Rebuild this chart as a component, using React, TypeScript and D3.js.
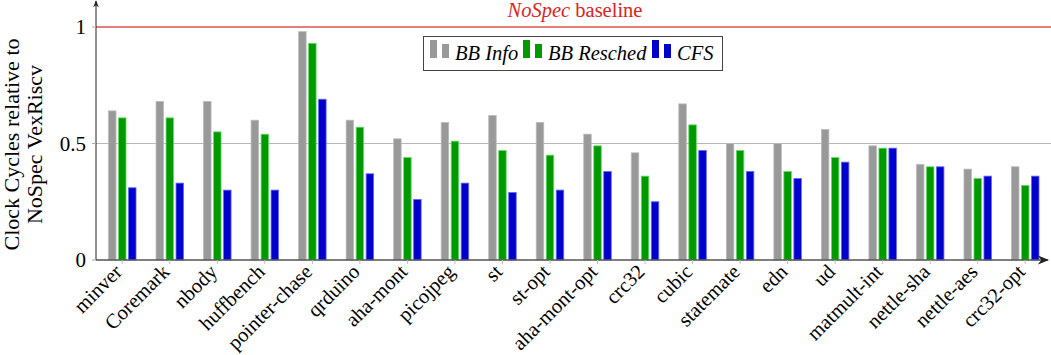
import React from "react";
import * as d3 from "d3";

const categories = ["minver","Coremark","nbody","huffbench","pointer-chase","qrduino","aha-mont","picojpeg","st","st-opt","aha-mont-opt","crc32","cubic","statemate","edn","ud","matmult-int","nettle-sha","nettle-aes","crc32-opt"];
const bbInfo = [0.64,0.68,0.68,0.60,0.98,0.60,0.52,0.59,0.62,0.59,0.54,0.46,0.67,0.50,0.50,0.56,0.49,0.41,0.39,0.40];
const bbResched = [0.61,0.61,0.55,0.54,0.93,0.57,0.44,0.51,0.47,0.45,0.49,0.36,0.58,0.47,0.38,0.44,0.48,0.40,0.35,0.32];
const cfs = [0.31,0.33,0.30,0.30,0.69,0.37,0.26,0.33,0.29,0.30,0.38,0.25,0.47,0.38,0.35,0.42,0.48,0.40,0.36,0.36];
const yTicks = [0, 0.5, 1];
const yTickLabels = ["0", "0.5", "1"];
const seriesNames = ["BB Info", "BB Resched", "CFS"];
const seriesColors = ["#999999", "#009900", "#0000cc"];
const seriesEdge = ["#bbbbbb", "#66dd66", "#6666ff"];

const W = 1051, H = 355;
const FONT = "'Liberation Serif', 'Times New Roman', serif";

export default function App() {
  const x0 = 96, x1 = 1048;
  const y = d3.scaleLinear().domain([0, 1]).range([260, 27]);
  const x = d3.scaleBand().domain(categories).range([98.5, 1049]).paddingInner(0).paddingOuter(0);
  const sub = d3.scaleBand().domain(["0", "1", "2"]).range([-15, 15]).paddingInner(0.25).paddingOuter(0.125);
  const series = [bbInfo, bbResched, cfs];
  const cx = (c: string) => (x(c) as number) + x.bandwidth() / 2;
  const bw = sub.bandwidth();
  const legendSym = [430, 523, 652];
  const legendText = [455, 548, 677];

  return (
    <svg width={W} height={H} style={{ position: "absolute", left: 0, top: 0, fontFamily: FONT }}>
      <defs>
        <marker id="arr" viewBox="0 0 10 10" refX="9" refY="5" markerWidth="7" markerHeight="7" orient="auto-start-reverse">
          <path d="M0,1 L10,5 L0,9 L3,5 Z" fill="#222" />
        </marker>
      </defs>
      <line x1={x0} x2={W} y1={y(0.5)} y2={y(0.5)} stroke="#b8b8b8" strokeWidth={1} />
      {series.map((vals, si) =>
        categories.map((c, i) => {
          const bx = cx(c) + (sub(String(si)) as number);
          return (
            <rect key={si + "-" + i} x={bx} y={y(vals[i])} width={bw} height={y(0) - y(vals[i])}
              fill={seriesColors[si]} stroke={seriesEdge[si]} strokeWidth={0.8} />
          );
        })
      )}
      <line x1={x0} x2={W} y1={y(1)} y2={y(1)} stroke="#dd5555" strokeWidth={1.5} />
      <text x={575} y={17} textAnchor="middle" fill="#dd2222" fontSize={20.5}>
        <tspan fontStyle="italic">NoSpec</tspan> baseline
      </text>
      <line x1={x0} x2={x1} y1={y(0)} y2={y(0)} stroke="#555" strokeWidth={1.6} markerEnd="url(#arr)" />
      <line x1={x0} x2={x0} y1={y(0)} y2={1} stroke="#222" strokeWidth={1} markerEnd="url(#arr)" />
      {yTicks.map((t, i) => (
        <g key={t}>
          <line x1={x0 - 4} x2={x0} y1={y(t)} y2={y(t)} stroke="#aaa" strokeWidth={1} />
          <text x={86} y={y(t)} dy="0.35em" textAnchor="end" fontSize={21}>{yTickLabels[i]}</text>
        </g>
      ))}
      {categories.map((c) => (
        <g key={c}>
          <line x1={cx(c)} x2={cx(c)} y1={y(0)} y2={y(0) + 4} stroke="#bbb" strokeWidth={1} />
          <text transform={`translate(${cx(c) - 4},${y(0) + 8}) rotate(-45)`} textAnchor="end" dy="0.35em" fontSize={20.5}>{c}</text>
        </g>
      ))}
      <text transform={`translate(21,${y(0.5) + 1}) rotate(-90)`} textAnchor="middle" fontSize={22}>
        <tspan x={0} dy="-2">Clock Cycles relative to</tspan>
        <tspan x={0} dy="23">NoSpec VexRiscv</tspan>
      </text>
      <rect x={423.5} y={36.5} width={299} height={34} fill="white" stroke="#444" strokeWidth={1} />
      {seriesNames.map((n, i) => (
        <g key={n}>
          <rect x={legendSym[i]} y={40} width={7} height={18} fill={seriesColors[i]} />
          <rect x={legendSym[i] + 12} y={44} width={7} height={14} fill={seriesColors[i]} />
          <text x={legendText[i]} y={60} fontSize={20.5} fontStyle="italic">{n}</text>
        </g>
      ))}
    </svg>
  );
}
